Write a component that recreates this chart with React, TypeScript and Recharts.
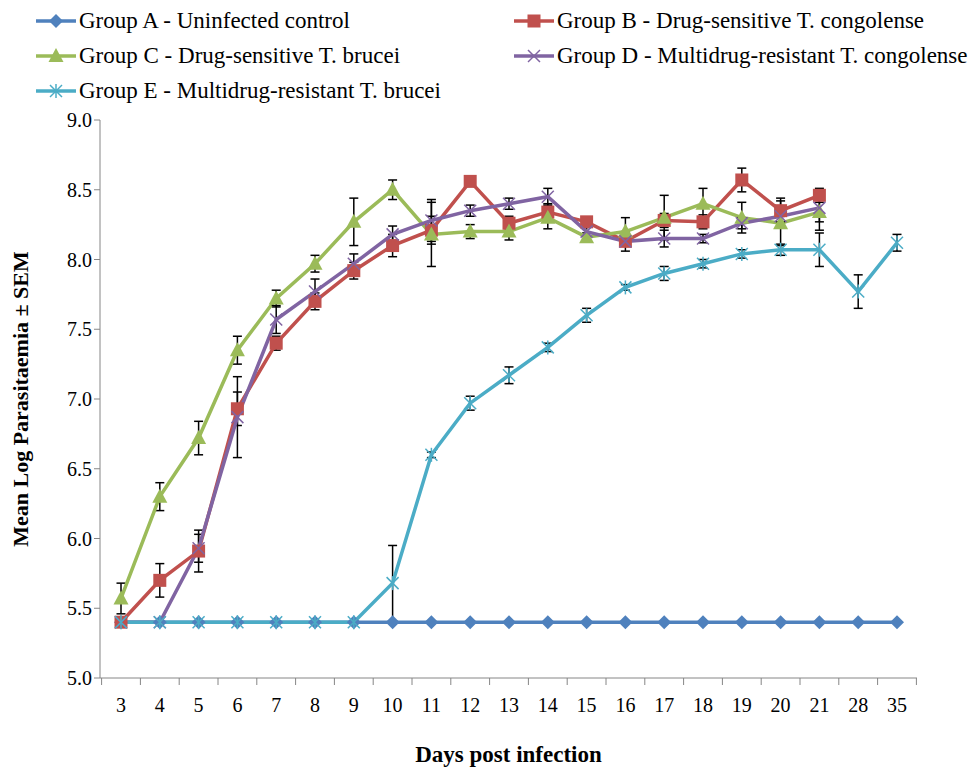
import React from 'react';
import { LineChart, Line, XAxis, YAxis, ErrorBar } from 'recharts';

const DAYS = ['3', '4', '5', '6', '7', '8', '9', '10', '11', '12', '13', '14', '15', '16', '17', '18', '19', '20', '21', '28', '35'];

const GROUP_A = [5.4, 5.4, 5.4, 5.4, 5.4, 5.4, 5.4, 5.4, 5.4, 5.4, 5.4, 5.4, 5.4, 5.4, 5.4, 5.4, 5.4, 5.4, 5.4, 5.4, 5.4];
const GROUP_B = [5.4, 5.7, 5.91, 6.93, 7.4, 7.7, 7.92, 8.1, 8.21, 8.56, 8.26, 8.34, 8.27, 8.13, 8.28, 8.27, 8.57, 8.35, 8.46];
const GROUP_C = [5.57, 6.3, 6.72, 7.35, 7.72, 7.97, 8.27, 8.5, 8.18, 8.2, 8.2, 8.3, 8.16, 8.2, 8.3, 8.4, 8.3, 8.26, 8.34];
const GROUP_D = [5.4, 5.4, 5.93, 6.87, 7.57, 7.77, 7.97, 8.18, 8.28, 8.35, 8.4, 8.45, 8.2, 8.13, 8.15, 8.15, 8.26, 8.31, 8.37];
const GROUP_E = [5.4, 5.4, 5.4, 5.4, 5.4, 5.4, 5.4, 5.68, 6.6, 6.97, 7.17, 7.37, 7.6, 7.8, 7.9, 7.97, 8.04, 8.07, 8.07, 7.77, 8.12];

// SEM
const SEM_B = [0, 0.12, 0.15, 0.12, 0.05, 0.06, 0.06, 0.08, 0.1, 0.03, 0.05, 0.06, 0.03, 0.07, 0.05, 0.05, 0.085, 0.09, 0.05];
const SEM_C = [0.11, 0.1, 0.12, 0.1, 0.06, 0.06, 0.17, 0.07, 0.23, 0.05, 0.06, 0.08, 0.03, 0.1, 0.16, 0.11, 0.11, 0.16, 0.13];
const SEM_D = [0, 0, 0.1, 0.29, 0.1, 0.09, 0.07, 0.06, 0.15, 0.04, 0.04, 0.06, 0.03, 0.03, 0.06, 0.03, 0.04, 0.04, 0.1];
const SEM_E = [0, 0, 0, 0, 0, 0, 0, 0.27, 0.02, 0.05, 0.06, 0.03, 0.05, 0.02, 0.05, 0.03, 0.03, 0.04, 0.12, 0.12, 0.06];

const Y_TICKS = [5, 5.5, 6, 6.5, 7, 7.5, 8, 8.5, 9];

const SERIES = [
  { key: 'a', name: 'Group A - Uninfected control', color: '#4F81BD', shape: 'diamond' },
  { key: 'b', name: 'Group B - Drug-sensitive T. congolense', color: '#C0504D', shape: 'square' },
  { key: 'c', name: 'Group C - Drug-sensitive T. brucei', color: '#9BBB59', shape: 'triangle' },
  { key: 'd', name: 'Group D - Multidrug-resistant T. congolense', color: '#8064A2', shape: 'x' },
  { key: 'e', name: 'Group E - Multidrug-resistant T. brucei', color: '#4BACC6', shape: 'star' },
];

const FONT = "'Liberation Serif', 'Times New Roman', serif";
const WIDTH = 970;
const HEIGHT = 769;
const MARGIN = { top: 120, right: 53, bottom: 5, left: 40 };
const X_AXIS_HEIGHT = 86;
const PAD_LEFT = 21;
const PAD_RIGHT = 20;
const PLOT_BOTTOM = HEIGHT - MARGIN.bottom - X_AXIS_HEIGHT;
const PLOT_WIDTH = WIDTH - MARGIN.left - 60 - MARGIN.right;
const STEP = (PLOT_WIDTH - PAD_LEFT - PAD_RIGHT) / (DAYS.length - 1);

const data = DAYS.map((day, i) => ({
  day,
  a: GROUP_A[i] ?? null,
  b: GROUP_B[i] ?? null,
  c: GROUP_C[i] ?? null,
  d: GROUP_D[i] ?? null,
  e: GROUP_E[i] ?? null,
  bErr: SEM_B[i] || null,
  cErr: SEM_C[i] || null,
  dErr: SEM_D[i] || null,
  eErr: SEM_E[i] || null,
}));

function Marker({ shape, color, cx, cy }: { shape: string; color: string; cx: number; cy: number }) {
  switch (shape) {
    case 'diamond':
      return <polygon points={`${cx},${cy - 7} ${cx + 7},${cy} ${cx},${cy + 7} ${cx - 7},${cy}`} fill={color} />;
    case 'square':
      return <rect x={cx - 6.5} y={cy - 6.5} width={13} height={13} fill={color} />;
    case 'triangle':
      return <polygon points={`${cx},${cy - 8} ${cx + 7.5},${cy + 6} ${cx - 7.5},${cy + 6}`} fill={color} />;
    case 'x':
      return (
        <g stroke={color} strokeWidth={1.5}>
          <line x1={cx - 6} y1={cy - 6} x2={cx + 6} y2={cy + 6} />
          <line x1={cx - 6} y1={cy + 6} x2={cx + 6} y2={cy - 6} />
        </g>
      );
    default:
      return (
        <g stroke={color} strokeWidth={1.5}>
          <line x1={cx - 6} y1={cy - 6} x2={cx + 6} y2={cy + 6} />
          <line x1={cx - 6} y1={cy + 6} x2={cx + 6} y2={cy - 6} />
          <line x1={cx} y1={cy - 7} x2={cx} y2={cy + 7} />
        </g>
      );
  }
}

const makeDot = (shape: string, color: string) => (props: any) => {
  const { cx, cy, index, value } = props;
  if (cx == null || cy == null || value == null) return <g key={`dot-${index}`} />;
  return (
    <g key={`dot-${index}`}>
      <Marker shape={shape} color={color} cx={cx} cy={cy} />
    </g>
  );
};

const XTick = (props: any) => {
  const { x, payload, index } = props;
  const half = STEP / 2;
  return (
    <g>
      <line x1={x - half} y1={PLOT_BOTTOM} x2={x - half} y2={PLOT_BOTTOM + 7} stroke="#868686" />
      {index === DAYS.length - 1 && (
        <line x1={x + half} y1={PLOT_BOTTOM} x2={x + half} y2={PLOT_BOTTOM + 7} stroke="#868686" />
      )}
      <text x={x} y={PLOT_BOTTOM + 34} textAnchor="middle" fontSize={20} fontFamily={FONT} fill="#000">
        {payload.value}
      </text>
    </g>
  );
};

function LegendItem({ s }: { s: typeof SERIES[number] }) {
  return (
    <div style={{ display: 'flex', alignItems: 'center', height: 35 }}>
      <svg width={42} height={20} style={{ marginRight: 2, flexShrink: 0 }}>
        <line x1={1} y1={10} x2={41} y2={10} stroke={s.color} strokeWidth={3.5} />
        <Marker shape={s.shape} color={s.color} cx={21} cy={10} />
      </svg>
      <span style={{ fontSize: 23, fontFamily: FONT, color: '#000', whiteSpace: 'nowrap' }}>{s.name}</span>
    </div>
  );
}

export default function App() {
  return (
    <div style={{ position: 'absolute', left: 0, top: 0, width: WIDTH, height: HEIGHT, background: '#fff', overflow: 'hidden' }}>
      <div style={{ position: 'absolute', left: 35, top: 3, display: 'grid', gridTemplateColumns: '478px 460px' }}>
        {SERIES.map((s) => (
          <LegendItem key={s.key} s={s} />
        ))}
      </div>
      <LineChart width={WIDTH} height={HEIGHT} data={data} margin={MARGIN}>
        <XAxis
          dataKey="day"
          interval={0}
          padding={{ left: PAD_LEFT, right: PAD_RIGHT }}
          height={X_AXIS_HEIGHT}
          axisLine={{ stroke: '#868686' }}
          tickLine={false}
          tick={<XTick />}
          label={{
            content: ({ viewBox }: any) => (
              <text
                x={viewBox.x + viewBox.width / 2}
                y={viewBox.y + viewBox.height - 2}
                textAnchor="middle"
                fontSize={23}
                fontWeight="bold"
                fontFamily={FONT}
                fill="#000"
              >
                Days post infection
              </text>
            ),
          }}
        />
        <YAxis
          domain={[5, 9]}
          ticks={Y_TICKS}
          width={60}
          tickFormatter={(v: number) => v.toFixed(1)}
          tick={{ fontSize: 20, fontFamily: FONT, fill: '#000' }}
          axisLine={{ stroke: '#868686' }}
          tickLine={{ stroke: '#868686' }}
          tickSize={6}
          label={{
            content: ({ viewBox }: any) => {
              const cx = viewBox.x - 20;
              const cy = viewBox.y + viewBox.height / 2;
              return (
                <text
                  x={cx}
                  y={cy}
                  transform={`rotate(-90 ${cx} ${cy})`}
                  textAnchor="middle"
                  dominantBaseline="central"
                  fontSize={22}
                  fontWeight="bold"
                  fontFamily={FONT}
                  fill="#000"
                >
                  Mean Log Parasitaemia ± SEM
                </text>
              );
            },
          }}
        />
        {SERIES.map((s) => (
          <Line
            key={s.key}
            dataKey={s.key}
            name={s.name}
            stroke={s.color}
            strokeWidth={3.5}
            dot={makeDot(s.shape, s.color)}
            activeDot={false}
            isAnimationActive={false}
            connectNulls={false}
          >
            {s.key !== 'a' && (
              <ErrorBar dataKey={`${s.key}Err`} direction="y" width={4.5} stroke="#000" strokeWidth={1.5} />
            )}
          </Line>
        ))}
      </LineChart>
    </div>
  );
}
